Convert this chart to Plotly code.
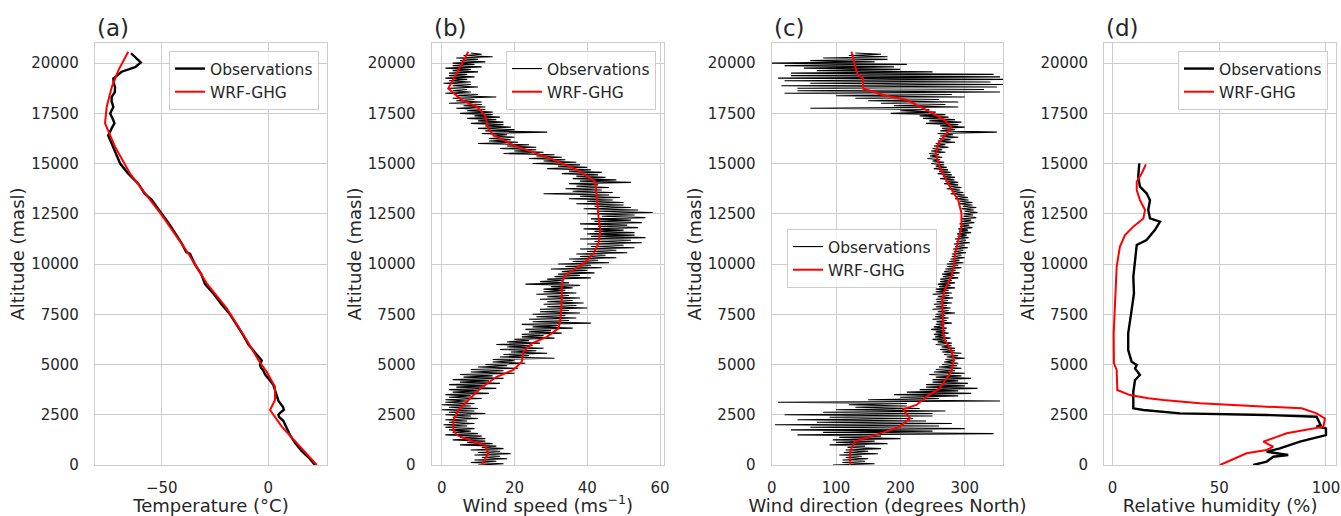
import plotly.graph_objects as go

# ---------------- DATA ----------------
# (a) Temperature
obs_t_alt = [0, 300, 700, 1100, 1500, 1900, 2200, 2400, 2500, 2600, 2750, 2900, 3200, 3600, 4000, 4300,
             4500, 4700, 4850, 5000, 5200, 5500, 6000, 6500, 7000, 7500, 8000, 8500, 9000, 9500, 10000,
             10500, 10600, 11000, 11500, 12000, 12500, 13000, 13200, 13500, 14000, 14500, 15000, 15500,
             15800, 16100, 16400, 16750, 17000, 17160, 17300, 17490, 17820, 18100, 18310, 18550, 18800,
             19000, 19230, 19400, 19570, 19800, 20030, 20200, 20490]
obs_t = [21.9, 19.5, 15.6, 12.5, 10.1, 8.2, 7.0, 5.0, 4.7, 5.5, 7.3, 6.8, 4.7, 3.5, 2.3, 0.0,
         -1.5, -2.4, -3.5, -3.9, -3.1, -5.5, -9.4, -12.0, -15.0, -18.0, -22.0, -25.5, -29.7, -31.5, -34.5,
         -36.7, -38.5, -40.5, -43.5, -46.5, -50.0, -53.5, -54.7, -58.0, -61.0, -65.7, -69.5, -71.5,
         -72.7, -74.0, -75.1, -73.5, -72.2, -72.7, -73.5, -74.2, -72.7, -73.5, -73.5, -72.0, -71.9,
         -72.5, -72.7, -70.5, -68.8, -62.5, -59.8, -61.5, -64.4]
wrf_t_alt = [0, 1078, 1907, 2736, 3234, 3896, 4642, 5224, 6219, 7794, 9040, 10600, 12438, 14510, 15837,
             17000, 17826, 18820, 19650, 20560]
wrf_t = [22.7, 13.3, 6.3, 0.8, 3.1, 3.1, -0.8, -4.7, -10.2, -19.5, -28.9, -38.0, -50.0, -64.9, -71.9,
         -76.6, -75.8, -73.4, -70.3, -65.7]

# (b) Wind speed, observations sampled every 62.5 m from 0 to 20500 m
obs_ws = [10, 17, 8, 15, 9, 18, 11, 16,   9, 19, 10, 16, 8, 17, 11, 15,
          5, 14, 7, 12, 3, 12, 5, 11,     1, 10, 3, 8, 2, 9, 1, 7,
          0.5, 9, 2, 7, 1, 10, 3, 8,      1, 12, 2, 9, 0, 10, 2, 8,
          0, 9, 1, 7, 1, 11, 2, 8,        1, 13, 3, 10, 2, 15, 4, 12,
          2, 16, 5, 13, 3, 17, 6, 14,     5, 20, 8, 17, 8, 21, 10, 18,
          12, 23, 14, 20, 14, 31, 16, 24, 17, 29, 19, 26, 16, 28, 18, 25,
          15, 27, 18, 24, 20, 31, 22, 28, 22, 33, 24, 30, 23, 36, 25, 32,
          22, 41, 25, 35, 24, 37, 26, 34, 25, 38, 27, 35, 27, 40, 29, 37,
          28, 39, 29, 36, 27, 38, 29, 35, 26, 37, 28, 34, 28, 36, 30, 38,
          23, 35, 27, 33, 29, 41, 31, 38, 32, 42, 33, 40, 30, 44, 34, 41,
          32, 46, 36, 43, 35, 48, 38, 45, 37, 51, 40, 48, 38, 53, 41, 50,
          40, 55, 42, 52, 38, 56, 41, 53, 40, 53, 42, 50, 39, 54, 43, 51,
          38, 55, 42, 52, 41, 56, 44, 53, 40, 58, 43, 54, 39, 52, 42, 50,
          37, 50, 40, 47, 35, 49, 38, 46, 28, 47, 36, 44, 34, 46, 37, 43,
          35, 52, 38, 48, 36, 45, 37, 43, 33, 44, 35, 41, 29, 40, 32, 38,
          25, 37, 28, 34, 24, 33, 26, 31, 17, 28, 20, 26, 16, 26, 18, 24,
          10, 21, 13, 19, 13, 20, 14, 18, 11, 29, 12, 20, 10, 19, 12, 17,
          8, 17, 10, 15, 7, 16, 9, 14,    5, 14, 7, 12, 4, 12, 6, 11,
          2, 11, 4, 9, 3, 15, 4, 10,      1, 8, 3, 7, 2, 10, 3, 8,
          0.5, 8, 2, 7, 1, 9, 2, 7,       2, 10, 3, 8, 1, 11, 3, 9,
          3, 12, 5, 10, 4, 14, 6, 11,     8]
obs_ws_alt = [62.5 * i for i in range(len(obs_ws))]
wrf_ws_alt = [0, 580, 1000, 1160, 1490, 1740, 2240, 2740, 3150, 3810, 4390, 4730, 5140, 5640, 6050,
              6380, 6800, 7210, 8210, 9040, 9450, 10030, 10530, 11030, 11690, 12350, 13180, 14100,
              14680, 15260, 15920, 16420, 16750, 17410, 17830, 18160, 18740, 19650, 20560]
wrf_ws = [11.0, 12.8, 11.9, 8.7, 4.1, 3.2, 3.2, 4.6, 6.9, 10.6, 15.1, 19.7, 22.0, 22.5, 24.8,
          28.9, 32.1, 32.6, 33.0, 33.0, 33.9, 39.0, 41.7, 43.1, 43.6, 43.1, 42.7, 42.2,
          37.2, 29.8, 19.7, 14.2, 12.8, 11.9, 9.6, 5.5, 1.8, 4.6, 7.3]

# (c) Wind direction, observations sampled every 62.5 m from 0 to 20500 m
obs_wd = [95, 160, 110, 145, 110, 150, 115, 140,    105, 165, 112, 150, 115, 170, 118, 145,
          90, 180, 100, 160, 95, 200, 105, 170,     40, 345, 80, 250, 30, 300, 60, 260,
          5, 280, 70, 240, 40, 220, 90, 250,        20, 250, 80, 270, 100, 230, 130, 210,
          120, 210, 10, 355, 150, 260, 200, 290,    190, 310, 210, 290, 230, 320, 240, 300,
          240, 305, 250, 290, 250, 310, 255, 295,   245, 300, 252, 285, 255, 295, 260, 288,
          265, 290, 268, 285, 270, 300, 272, 290,   268, 295, 265, 285, 262, 285, 264, 280,
          255, 280, 258, 272, 250, 278, 254, 270,   252, 275, 255, 270, 248, 272, 252, 268,
          255, 280, 256, 272, 250, 275, 254, 270,   255, 285, 258, 275, 250, 278, 255, 272,
          252, 280, 256, 274, 255, 282, 258, 276,   250, 280, 255, 275, 255, 285, 260, 278,
          258, 285, 262, 280, 262, 290, 266, 284,   265, 292, 268, 286, 270, 295, 273, 290,
          272, 298, 276, 292, 278, 300, 280, 295,   280, 302, 283, 298, 282, 305, 285, 300,
          283, 308, 287, 302, 285, 306, 289, 303,   288, 310, 291, 305, 290, 312, 293, 307,
          292, 315, 296, 310, 295, 318, 298, 313,   298, 320, 300, 314, 295, 318, 297, 312,
          290, 312, 292, 306, 285, 305, 288, 300,   278, 298, 280, 293, 272, 295, 276, 290,
          268, 290, 270, 284, 262, 285, 266, 280,   258, 278, 260, 274, 252, 272, 255, 268,
          248, 268, 250, 262, 242, 265, 246, 260,   245, 270, 248, 265, 250, 275, 252, 270,
          255, 285, 258, 278, 260, 290, 262, 282,   258, 350, 262, 285, 265, 300, 262, 290,
          240, 295, 245, 285, 235, 275, 230, 270,   185, 255, 200, 245, 60, 290, 190, 270,
          170, 290, 150, 260, 130, 300, 100, 280,   20, 355, 40, 330, 40, 350, 15, 360,
          60, 340, 20, 360, 10, 355, 30, 345,       30, 250, 70, 200, 50, 190, 20, 210,
          0, 160, 60, 180, 80, 180, 120, 170,       130]
obs_wd_alt = [62.5 * i for i in range(len(obs_wd))]
wrf_wd_alt = [0, 660, 830, 1160, 1410, 1660, 1910, 2320, 2770, 2990, 3400, 3810, 4640, 5220, 5720, 6220,
              6550, 7380, 8210, 8710, 9370, 9870, 10530, 11190, 11860, 12520, 13180, 13850, 14840, 15510,
              16000, 16500, 16830, 17160, 17660, 18160, 18410, 18740, 19240, 19400, 19570, 20560]
wrf_wd = [122, 122, 124, 129, 153, 178, 199, 215, 204, 225, 241, 261, 279, 283, 279, 269,
          267, 266, 265, 269, 279, 283, 285, 290, 295, 295, 290, 277, 261, 255,
          259, 272, 279, 269, 241, 210, 173, 142, 142, 134, 132, 124]

# (d) Relative humidity
obs_rh_alt = [0, 170, 410, 500, 660, 830, 1160, 1490, 1820, 1910, 1990, 2400, 2490, 2570, 2740, 2820,
              3650, 4230, 4480, 4810, 4980, 5140, 5720, 6550, 7710, 8540, 9370, 10360, 10950, 11190,
              11690, 12110, 12270, 12690, 13180, 13520, 13850, 14340, 15010]
obs_rh = [65.9, 72.2, 75.3, 82.3, 72.2, 78.4, 87.8, 100, 100, 95.6, 97.5, 95.6, 72.2, 31.6, 14.4, 9.7,
          9.7, 10.5, 12.8, 10.5, 11.3, 8.9, 7.3, 7.3, 8.9, 10.0, 9.7, 10.5, 11.3, 15.9,
          19.8, 22.2, 17.5, 16.7, 17.5, 15.9, 12.8, 12.0, 12.5]
wrf_rh_alt = [0, 580, 750, 910, 1160, 1580, 1910, 2320, 2570, 2820, 2900, 3070, 3230, 3320, 3480, 3730,
              4730, 5060, 6550, 8210, 9870, 10860, 11440, 11860, 12270, 12690, 13180, 13680, 14100, 14510,
              14960]
wrf_rh = [50.3, 62.8, 72.2, 75.3, 70.6, 81.6, 98.8, 99.5, 95.6, 88.6, 72.2, 40.9, 23.8, 16.7, 8.1, 2.2,
          1.9, 0.6, 0.5, 1.1, 1.9, 3.4, 5.8, 9.7, 14.4, 15.2, 12.8, 11.3, 11.3, 13.6,
          15.6]

panel_labels = ["(a)", "(b)", "(c)", "(d)"]
x_titles = ["Temperature (°C)", "Wind speed (ms<sup>−1</sup>)",
            "Wind direction (degrees North)", "Relative humidity (%)"]
x_tickvals = [[-50, 0], [0, 20, 40, 60], [0, 100, 200, 300], [0, 50, 100]]
x_ticktext = [["−50", "0"], ["0", "20", "40", "60"], ["0", "100", "200", "300"], ["0", "50", "100"]]
y_tickvals = [0, 2500, 5000, 7500, 10000, 12500, 15000, 17500, 20000]
y_ticktext = [str(v) for v in y_tickvals]

# ---------------- FIGURE ----------------
W, H = 1341, 516
FONT = "DejaVu Sans"
TXT = "#262626"
GRID = "#cccccc"
RED = "#ff0000"

x_px = [(95, 327), (431.7, 664), (771.7, 1003.3), (1104.3, 1336)]
x_ranges = [[-81.3, 27.5], [-2.75, 61.1], [0, 360], [-3.9, 104.7]]
y_dom = [(516 - 465) / H, (516 - 43) / H]

fig = go.Figure()

series = [
    (obs_t, obs_t_alt, wrf_t, wrf_t_alt, 2.4),
    (obs_ws, obs_ws_alt, wrf_ws, wrf_ws_alt, 1.1),
    (obs_wd, obs_wd_alt, wrf_wd, wrf_wd_alt, 1.1),
    (obs_rh, obs_rh_alt, wrf_rh, wrf_rh_alt, 2.4),
]
legend_names = ["legend", "legend2", "legend3", "legend4"]

for i, (ox, oy, wx, wy, ow) in enumerate(series):
    sfx = "" if i == 0 else str(i + 1)
    fig.add_trace(go.Scatter(x=ox, y=oy, mode="lines", name="Observations",
                             line=dict(color="black", width=ow),
                             xaxis="x" + sfx, yaxis="y" + sfx, legend=legend_names[i]))
    fig.add_trace(go.Scatter(x=wx, y=wy, mode="lines", name="WRF-GHG",
                             line=dict(color=RED, width=2),
                             xaxis="x" + sfx, yaxis="y" + sfx, legend=legend_names[i]))

layout = dict(
    width=W, height=H,
    margin=dict(l=0, r=0, t=0, b=0),
    paper_bgcolor="white", plot_bgcolor="white",
    font=dict(family=FONT, color=TXT, size=15),
    annotations=[],
)

legend_pos = [(319, 51), (656, 51), (937, 229), (1328, 51)]

for i in range(4):
    sfx = "" if i == 0 else str(i + 1)
    x0, x1 = x_px[i]
    layout["xaxis" + sfx] = dict(
        domain=[x0 / W, x1 / W], anchor="y" + sfx, range=x_ranges[i],
        tickvals=x_tickvals[i], ticktext=x_ticktext[i],
        showgrid=True, gridcolor=GRID, gridwidth=1, zeroline=False,
        showline=True, mirror=True, linecolor=GRID, linewidth=1.3,
        ticks="", ticklabelstandoff=9, automargin=False,
        tickfont=dict(family=FONT, size=15, color=TXT),
        title=dict(text=x_titles[i], font=dict(family=FONT, size=18, color=TXT), standoff=8),
    )
    layout["yaxis" + sfx] = dict(
        domain=y_dom, anchor="x" + sfx, range=[0, 21000],
        tickvals=y_tickvals, ticktext=y_ticktext,
        showgrid=True, gridcolor=GRID, gridwidth=1, zeroline=False,
        showline=True, mirror=True, linecolor=GRID, linewidth=1.3,
        ticks="", ticklabelstandoff=12, automargin=False,
        tickfont=dict(family=FONT, size=15, color=TXT),
        title=dict(text="Altitude (masl)", font=dict(family=FONT, size=18, color=TXT), standoff=1),
    )
    lx, ly = legend_pos[i]
    layout[legend_names[i]] = dict(
        x=lx / W, y=(H - ly) / H, xanchor="right", yanchor="top",
        bgcolor="rgba(255,255,255,0.8)", bordercolor=GRID, borderwidth=1,
        font=dict(family=FONT, size=15.5, color=TXT),
        tracegroupgap=0, itemwidth=30,
    )
    layout["annotations"].append(dict(
        text=panel_labels[i], xref="x" + sfx + " domain", yref="y" + sfx + " domain",
        x=0, y=1, xanchor="left", yanchor="bottom", yshift=0, showarrow=False,
        font=dict(family=FONT, size=23, color=TXT),
    ))

fig.update_layout(**layout)
fig.write_html("out.html")
